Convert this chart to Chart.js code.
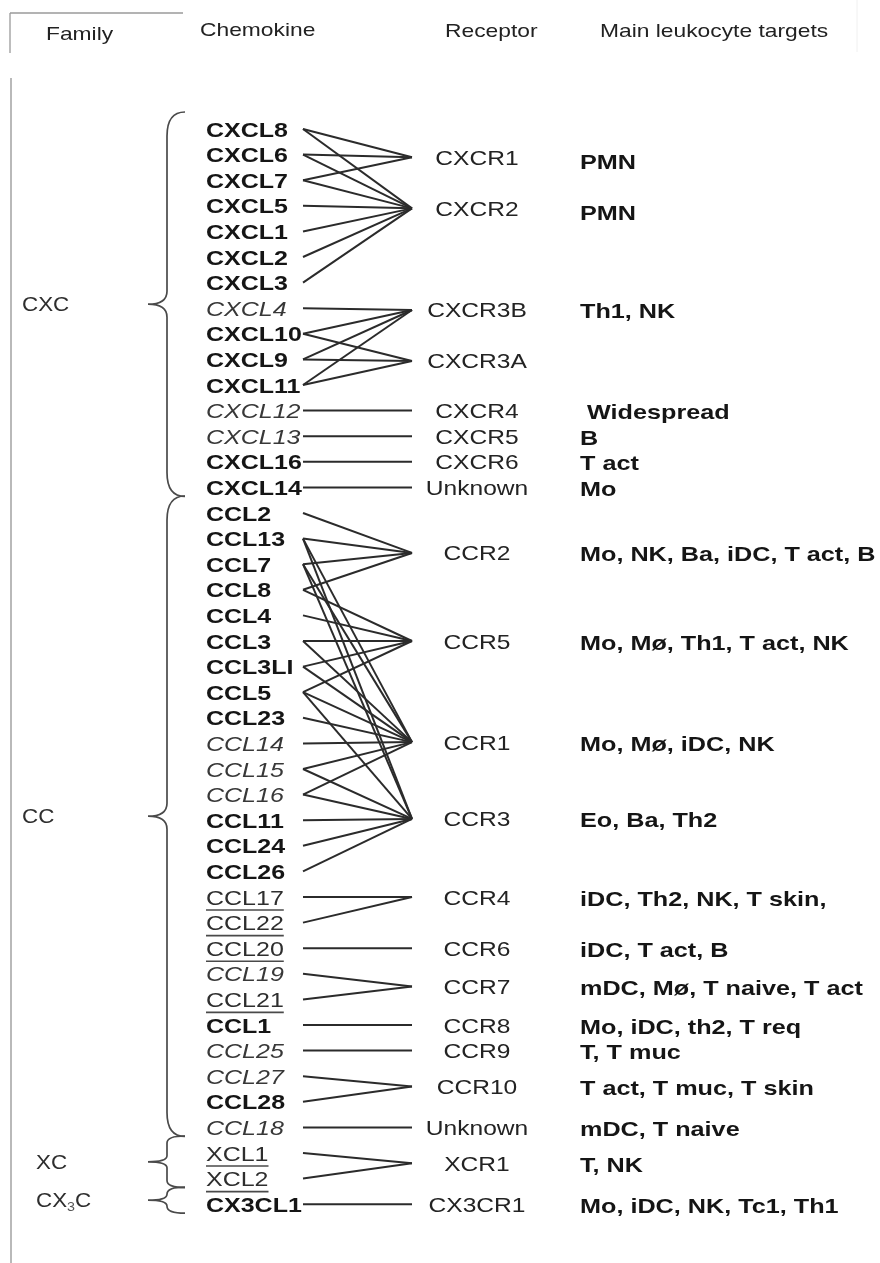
<!DOCTYPE html>
<html><head><meta charset="utf-8">
<script src="https://cdn.jsdelivr.net/npm/chart.js@4"></script>
<style>html,body{margin:0;padding:0;background:#fff}canvas{display:block}</style>
</head><body>
<canvas id="c" width="880" height="1263"></canvas>
<script>
// ---------------- DATA ----------------
const headers = ['Family', 'Chemokine', 'Receptor', 'Main leukocyte targets'];
const families = ['CXC', 'CC', 'XC', 'CX3C'];
const familyFirstRow = [0, 15, 40, 42];
const familyLastRow = [14, 39, 41, 42];

const chemokines = ['CXCL8','CXCL6','CXCL7','CXCL5','CXCL1','CXCL2','CXCL3','CXCL4','CXCL10','CXCL9','CXCL11','CXCL12','CXCL13','CXCL16','CXCL14',
  'CCL2','CCL13','CCL7','CCL8','CCL4','CCL3','CCL3LI','CCL5','CCL23','CCL14','CCL15','CCL16','CCL11','CCL24','CCL26',
  'CCL17','CCL22','CCL20','CCL19','CCL21','CCL1','CCL25','CCL27','CCL28','CCL18','XCL1','XCL2','CX3CL1'];

const receptors = ['CXCR1','CXCR2','CXCR3B','CXCR3A','CXCR4','CXCR5','CXCR6','Unknown',
  'CCR2','CCR5','CCR1','CCR3','CCR4','CCR6','CCR7','CCR8','CCR9','CCR10','Unknown','XCR1','CX3CR1'];
const receptorRows = [1.1, 3.1, 7.07, 9.06, 11, 12, 13, 14,
  16.56, 20, 23.95, 26.95, 30, 32, 33.5, 35, 36, 37.4, 39, 40.4, 42];
const targets = ['PMN','PMN','Th1, NK','',' Widespread','B','T act','Mo',
  'Mo, NK, Ba, iDC, T act, B','Mo, Mø, Th1, T act, NK','Mo, Mø, iDC, NK','Eo, Ba, Th2',
  'iDC, Th2, NK, T skin,','iDC, T act, B','mDC, Mø, T naive, T act','Mo, iDC, th2, T req',
  'T, T muc','T act, T muc, T skin','mDC, T naive','T, NK','Mo, iDC, NK, Tc1, Th1'];

const receptorLigands = [
  ['CXCL8','CXCL6','CXCL7'],
  ['CXCL8','CXCL6','CXCL7','CXCL5','CXCL1','CXCL2','CXCL3'],
  ['CXCL4','CXCL10','CXCL9','CXCL11'],
  ['CXCL10','CXCL9','CXCL11'],
  ['CXCL12'], ['CXCL13'], ['CXCL16'], ['CXCL14'],
  ['CCL2','CCL13','CCL7','CCL8'],
  ['CCL8','CCL4','CCL3','CCL3LI','CCL5'],
  ['CCL13','CCL7','CCL3','CCL3LI','CCL5','CCL23','CCL14','CCL15','CCL16'],
  ['CCL13','CCL7','CCL5','CCL15','CCL16','CCL11','CCL24','CCL26'],
  ['CCL17','CCL22'], ['CCL20'], ['CCL19','CCL21'], ['CCL1'], ['CCL25'],
  ['CCL27','CCL28'], ['CCL18'], ['XCL1','XCL2'], ['CX3CL1']
];

// ---------------- STYLE / LAYOUT ----------------
const italicNames = ['CXCL4','CXCL12','CXCL13','CCL14','CCL15','CCL16','CCL19','CCL25','CCL27','CCL18'];
const underlinedNames = ['CCL17','CCL22','CCL20','CCL21','XCL1','XCL2'];
const LAYOUT = { top: 129, step: 25.6, lineStartX: 303, lineEndX: 412,
  chemX: 206, recX: 477, tgtX: 580, famX: 22, braceEndX: 185, braceX: 167, braceTipX: 148 };
const FONT = '"Liberation Sans", Arial, Helvetica, sans-serif';
const SX = 1.19;

const yMin = -LAYOUT.top / LAYOUT.step;
const yMax = (1263 - LAYOUT.top) / LAYOUT.step;

const datasets = [];
receptorLigands.forEach((ligs, r) => {
  ligs.forEach(name => {
    const row = chemokines.indexOf(name);
    datasets.push({
      data: [{ x: LAYOUT.lineStartX, y: row }, { x: LAYOUT.lineEndX, y: receptorRows[r] }],
      showLine: true, borderColor: '#2b2b2b', borderWidth: 2, pointRadius: 0, fill: false
    });
  });
});

function txt(ctx, s, x, y, font, color, align, sx) {
  ctx.save();
  ctx.font = font;
  ctx.fillStyle = color;
  ctx.textBaseline = 'alphabetic';
  const w = ctx.measureText(s).width * sx;
  let x0 = x;
  if (align === 'center') x0 = x - w / 2;
  ctx.translate(x0, y);
  ctx.scale(sx, 1);
  ctx.fillText(s, 0, 0);
  ctx.restore();
  return { x0, w };
}

function brace(ctx, top, bot, rEnd, rMid) {
  const mid = (top + bot) / 2;
  const { braceEndX: e, braceX: v, braceTipX: t } = LAYOUT;
  ctx.beginPath();
  ctx.moveTo(e, top);
  ctx.quadraticCurveTo(v, top, v, top + rEnd);
  ctx.lineTo(v, mid - rMid);
  ctx.quadraticCurveTo(v, mid, t, mid);
  ctx.quadraticCurveTo(v, mid, v, mid + rMid);
  ctx.lineTo(v, bot - rEnd);
  ctx.quadraticCurveTo(v, bot, e, bot);
  ctx.stroke();
  return mid;
}

const labelPlugin = {
  id: 'labels',
  afterDatasetsDraw(chart) {
    const ctx = chart.ctx;
    const xs = chart.scales.x, ys = chart.scales.y;
    const X = v => xs.getPixelForValue(v);
    const Y = v => ys.getPixelForValue(v);

    // frame lines
    ctx.save();
    ctx.strokeStyle = '#9a9a9a'; ctx.lineWidth = 1.3;
    ctx.beginPath(); ctx.moveTo(X(10), 13); ctx.lineTo(X(183), 13); ctx.moveTo(X(10), 13); ctx.lineTo(X(10), 53); ctx.stroke();
    ctx.strokeStyle = '#a8a8a8'; ctx.lineWidth = 1.6;
    ctx.beginPath(); ctx.moveTo(X(11), 78); ctx.lineTo(X(11), 1263); ctx.stroke();
    ctx.strokeStyle = '#f0f0f0'; ctx.lineWidth = 1;
    ctx.beginPath(); ctx.moveTo(X(857), 0); ctx.lineTo(X(857), 52); ctx.stroke();
    ctx.restore();

    // headers
    const hf = '19px ' + FONT;
    txt(ctx, headers[0], X(46), 40, hf, '#222', 'left', 1.2);
    txt(ctx, headers[1], X(200), 36, hf, '#222', 'left', 1.2);
    txt(ctx, headers[2], X(445), 37, hf, '#222', 'left', 1.2);
    txt(ctx, headers[3], X(600), 37, hf, '#222', 'left', 1.2);

    // chemokine names
    chemokines.forEach((name, i) => {
      const yc = Y(i);
      const base = yc + 7.5;
      let font = 'bold 21px ' + FONT, color = '#151515';
      if (italicNames.includes(name)) { font = 'italic 21px ' + FONT; color = '#383838'; }
      else if (underlinedNames.includes(name)) { font = '21px ' + FONT; color = '#2e2e2e'; }
      const m = txt(ctx, name, X(LAYOUT.chemX), base, font, color, 'left', SX);
      if (underlinedNames.includes(name)) {
        ctx.save(); ctx.strokeStyle = '#4a4a4a'; ctx.lineWidth = 1.6;
        ctx.beginPath(); ctx.moveTo(m.x0, base + 5.5); ctx.lineTo(m.x0 + m.w, base + 5.5); ctx.stroke();
        ctx.restore();
      }
    });

    // receptors + targets
    receptors.forEach((name, r) => {
      const yc = Y(receptorRows[r]);
      txt(ctx, name, X(LAYOUT.recX), yc + 7.5, '21px ' + FONT, '#232323', 'center', 1.17);
      const dy = r < 2 ? 4 : 1;
      txt(ctx, targets[r], X(LAYOUT.tgtX), yc + 7.5 + dy, 'bold 21px ' + FONT, '#151515', 'left', 1.2);
    });

    // family braces & labels
    ctx.save();
    ctx.strokeStyle = '#4a4a4a'; ctx.lineWidth = 1.7;
    families.forEach((fam, f) => {
      const top = Y(familyFirstRow[f]) - 17;
      const bot = Y(familyLastRow[f]) + 9;
      const big = (bot - top) > 100;
      const mid = brace(ctx, top, bot, big ? 24 : 7, big ? 13 : 6);
      const ff = '20px ' + FONT;
      if (fam === 'CX3C') {
        const a = txt(ctx, 'CX', X(36), mid + 7, ff, '#2e2e2e', 'left', 1.12);
        const b = txt(ctx, '3', a.x0 + a.w, mid + 11, '13px ' + FONT, '#555', 'left', 1.1);
        txt(ctx, 'C', b.x0 + b.w, mid + 7, ff, '#2e2e2e', 'left', 1.12);
      } else {
        txt(ctx, fam, X(big ? LAYOUT.famX : 36), mid + 7, ff, '#2e2e2e', 'left', 1.12);
      }
    });
    ctx.restore();
  }
};

new Chart(document.getElementById('c').getContext('2d'), {
  type: 'scatter',
  data: { datasets },
  options: {
    responsive: false, animation: false, events: [],
    layout: { padding: 0 },
    plugins: { legend: { display: false }, tooltip: { enabled: false } },
    scales: {
      x: { type: 'linear', min: 0, max: 880, display: false },
      y: { type: 'linear', min: yMin, max: yMax, reverse: true, display: false }
    }
  },
  plugins: [labelPlugin]
});
</script>
</body></html>
